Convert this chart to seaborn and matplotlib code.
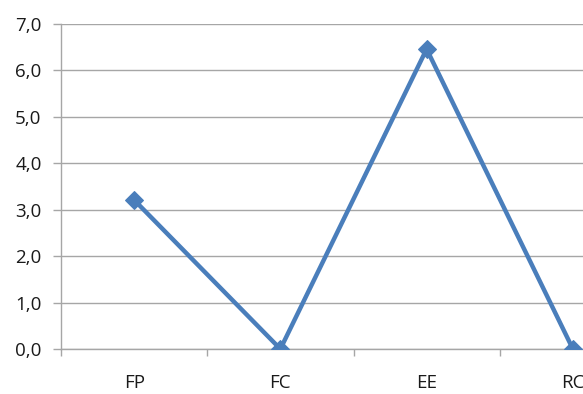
import matplotlib
matplotlib.use("Agg")
import matplotlib.pyplot as plt
from matplotlib.ticker import FixedLocator, FuncFormatter
import seaborn as sns
import pandas as pd

categories = ["FP", "FC", "EE", "RC"]
values = [3.21, 0.0, 6.46, 0.0]
y_ticks = [0, 1, 2, 3, 4, 5, 6, 7]

sns.set_style("white")
plt.rcParams["font.family"] = ["Open Sans", "DejaVu Sans"]

df = pd.DataFrame({"cat": categories, "val": values})

fig = plt.figure(figsize=(5.83, 3.94), dpi=100)
ax = fig.add_axes([61 / 583, 45 / 394, 585 / 583, 325 / 394])

grid_color = "#a6a6a6"
line_color = "#4a7ebb"

sns.lineplot(data=df, x="cat", y="val", ax=ax, color=line_color,
             linewidth=3.2, marker="D", markersize=9.5,
             markeredgecolor=line_color, markerfacecolor=line_color,
             sort=False, zorder=3)

ax.set_xlim(-0.5, 3.5)
ax.set_ylim(0, 7)
ax.set_xlabel("")
ax.set_ylabel("")

ax.yaxis.set_major_locator(FixedLocator(y_ticks))
ax.yaxis.set_major_formatter(FuncFormatter(lambda v, p: f"{v:.1f}".replace(".", ",")))
ax.grid(axis="y", color=grid_color, linewidth=1.0)
ax.grid(axis="x", visible=False)

ax.set_xticks(range(len(categories)))
ax.set_xticklabels(categories)
ax.xaxis.set_minor_locator(FixedLocator([-0.5, 0.5, 1.5, 2.5, 3.5]))

ax.tick_params(axis="y", which="major", length=6, width=1.0, color=grid_color,
               pad=8, labelsize=13.5, labelcolor="#1a1a1a", left=True)
ax.tick_params(axis="x", which="major", length=0, pad=18, labelsize=13.5,
               labelcolor="#1a1a1a")
ax.tick_params(axis="x", which="minor", length=5, width=1.0, color=grid_color,
               direction="out", bottom=True)

for side in ["top", "right"]:
    ax.spines[side].set_visible(False)
for side in ["left", "bottom"]:
    ax.spines[side].set_color(grid_color)
    ax.spines[side].set_linewidth(1.0)

fig.savefig("out.png", dpi=100)
